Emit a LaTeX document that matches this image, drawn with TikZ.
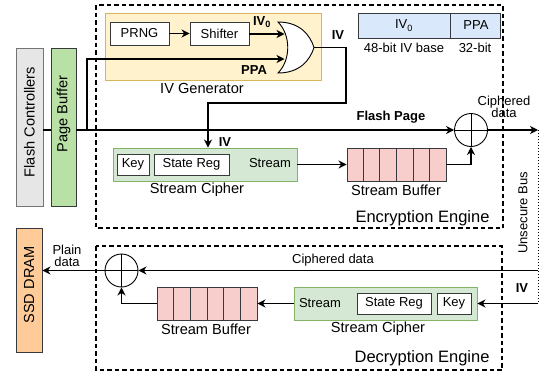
\documentclass[tikz,border=0pt]{standalone}
\usepackage{fontspec}
\setmainfont{Liberation Sans}
\usetikzlibrary{arrows.meta,calc}
\definecolor{ylwfill}{HTML}{FFF2CC}
\definecolor{ylwdraw}{HTML}{D6B656}
\definecolor{grnfill}{HTML}{D5E8D4}
\definecolor{grndraw}{HTML}{82B366}
\definecolor{pbfill}{HTML}{B9E0A5}
\definecolor{grayfill}{HTML}{E6E6E6}
\definecolor{pinkfill}{HTML}{F8CECC}
\definecolor{orgfill}{HTML}{FFCC99}
\definecolor{bluefill}{HTML}{DAE8FC}
\definecolor{darkdraw}{HTML}{36393D}
\tikzset{
  fs/.style={font=\fontsize{13}{15}\selectfont},
  fsb/.style={font=\fontsize{13}{15}\selectfont\bfseries},
  fsl/.style={font=\fontsize{14.6}{17}\selectfont},
  fse/.style={font=\fontsize{16.5}{19}\selectfont},
  box/.style={draw, line width=0.9pt, inner sep=0pt, fs},
  wbox/.style={box, fill=white, draw=darkdraw},
  conn/.style={line width=1.4pt, -{Stealth[length=8pt,width=8pt,inset=2.5pt]}},
  plain/.style={line width=1.4pt},
  engine/.style={draw, line width=1.2pt, dash pattern=on 4.5pt off 3pt},
  xorn/.style={circle, draw, line width=0.9pt, minimum size=33pt, inner sep=0pt},
  vtext/.style={fsl, rotate=90, inner sep=0pt},
}
\begin{document}
\begin{tikzpicture}[x=1pt,y=-1pt]
\useasboundingbox (0,0) rectangle (545,375);
% engines
\draw[engine] (96,5) rectangle (503,228);
\draw[engine] (96,246) rectangle (502,370);
% IV generator
\node[box, draw=ylwdraw, fill=ylwfill, minimum width=216, minimum height=67] (ivg) at (213,46.5) {};
\node[fsl] (ivgl) at (202,88) {IV Generator};
\node[wbox, minimum width=59, minimum height=23] (prng) at (139.5,33.5) {PRNG};
\node[wbox, minimum width=59, minimum height=23] (shf) at (219.5,33.5) {Shifter};
% gate
\coordinate (gin1) at (284.5,34);
\coordinate (gin2) at (284.5,59);
\coordinate (gout) at (314,47.5);
\draw[line width=0.9pt, fill=white] (278,22) .. controls (300,22) and (310,35) .. (314,47.5)
  .. controls (310,60) and (300,73) .. (278,73) .. controls (291,60) and (291,35) .. (278,22) -- cycle;
\draw[conn] (prng.east) -- (shf.west);
\draw[conn] (shf.east |- gin1) -- (gin1);
\node[fsb] (iv0l) at (262,22) {IV\textsubscript{0}};
\node[fsb] (ppal) at (254,70) {PPA};
\node[fsb] (ivl1) at (338,35) {IV};
% IV0/PPA bar
\node[box, draw=darkdraw, fill=bluefill, minimum width=92, minimum height=25] (bar1) at (404,25.5) {IV\textsubscript{0}};
\node[box, draw=darkdraw, fill=bluefill, minimum width=50, minimum height=25, anchor=west] (bar2) at (bar1.east) {PPA};
\node[fs] (bar1l) at (404,48) {48-bit IV base};
\node[fs] (bar2l) at (475,48) {32-bit};
% left side
\node[box, draw=darkdraw!70, fill=grayfill, minimum width=27, minimum height=158] (fc) at (29.5,127.5) {};
\node[vtext] (fct) at (29.5,122) {Flash Controllers};
\node[box, draw=darkdraw, fill=pbfill, minimum width=25, minimum height=158] (pb) at (63.5,127.5) {};
\node[vtext] (pbt) at (63.5,114) {Page Buffer};
\node[box, draw=darkdraw, fill=orgfill, minimum width=26, minimum height=124] (dram) at (29,290) {};
\node[vtext] (dramt) at (29,285) {SSD DRAM};
% encryption stream cipher
\node[box, draw=grndraw, fill=grnfill, minimum width=184, minimum height=33] (sce) at (205,164.5) {};
\node[wbox, minimum width=32, minimum height=21] (keye) at (133,164.5) {Key};
\node[wbox, minimum width=75, minimum height=21] (sre) at (191.5,164.5) {State Reg};
\node[fs] (ste) at (270,163.5) {Stream};
\node[fsl] (scel) at (197,190) {Stream Cipher};
% enc buffer
\node[box, draw=darkdraw, fill=pinkfill, minimum width=99, minimum height=33] (sbe) at (396.5,164.5) {};
\foreach \i in {1,...,5} \draw[line width=0.9pt, darkdraw] ($(sbe.north west)!\i/6!(sbe.north east)$) -- ($(sbe.south west)!\i/6!(sbe.south east)$);
\node[fsl] (sbel) at (396,190) {Stream Buffer};
% enc xor
\node[xorn] (xe) at (471,130) {};
\draw[line width=0.9pt] (xe.north) -- (xe.south) (xe.west) -- (xe.east);
% connectors enc
\coordinate (ppa0) at (87,130);
\coordinate (ivc1) at (346,47.5);
\coordinate (ivc2) at (346,103);
\coordinate (ivc3) at (208,103);
\coordinate (bustop) at (538,130);
\coordinate (busiv) at (538,303.5);
\coordinate (buscd) at (538,270.5);
\draw[plain] (fc.east |- xe) -- (pb.west |- xe);
\draw[conn] (pb.east |- xe) -- (xe.west);
\draw[conn] (ppa0) |- (gin2);
\draw[conn] (gout) -- (ivc1) -- (ivc2) -- (ivc3) -- (ivc3 |- sce.north);
\node[fsb] (ivl2) at (225,142) {IV};
\node[fsb] (fpl) at (391,117) {Flash Page};
\draw[conn] (sce.east) -- (sbe.west);
\draw[conn] (sbe.east) -| (xe.south);
\draw[conn] (xe.east) -- (bustop);
\node[fs, align=center] (cdl1) at (504,107) {Ciphered\\[-3pt]data};
\draw[line width=1pt, dotted] (bustop) -- (busiv);
\node[fs, rotate=90] (ubl) at (523,213) {Unsecure Bus};
\node[fse, anchor=east] (eel) at (493,218) {Encryption Engine};
% decryption
\node[xorn] (xd) at (121.5,270.5) {};
\draw[line width=0.9pt] (xd.north) -- (xd.south) (xd.west) -- (xd.east);
\node[box, draw=darkdraw, fill=pinkfill, minimum width=100, minimum height=33] (sbd) at (207,303.5) {};
\foreach \i in {1,...,5} \draw[line width=0.9pt, darkdraw] ($(sbd.north west)!\i/6!(sbd.north east)$) -- ($(sbd.south west)!\i/6!(sbd.south east)$);
\node[fsl] (sbdl) at (206,329) {Stream Buffer};
\node[box, draw=grndraw, fill=grnfill, minimum width=183, minimum height=33] (scd) at (385.5,303.5) {};
\node[fs] (std) at (320,303.5) {Stream};
\node[wbox, minimum width=74, minimum height=21] (srd) at (394,303.5) {State Reg};
\node[wbox, minimum width=34, minimum height=21] (keyd) at (454,303.5) {Key};
\node[fsl] (scdl) at (378,329) {Stream Cipher};
\draw[conn] (buscd) -- (xd.east);
\node[fs] (cdl2) at (333,260) {Ciphered data};
\draw[conn] (busiv) -- (scd.east);
\node[fsb] (ivl3) at (522,288) {IV};
\draw[conn] (scd.west) -- (sbd.east);
\draw[conn] (sbd.west) -| (xd.south);
\draw[conn] (xd.west) -- (dram.east |- xd);
\node[fs, align=center] (pdl) at (67,255.5) {Plain\\[-3pt]data};
\node[fse, anchor=east] (del) at (493,358) {Decryption Engine};
\end{tikzpicture}
\end{document}
